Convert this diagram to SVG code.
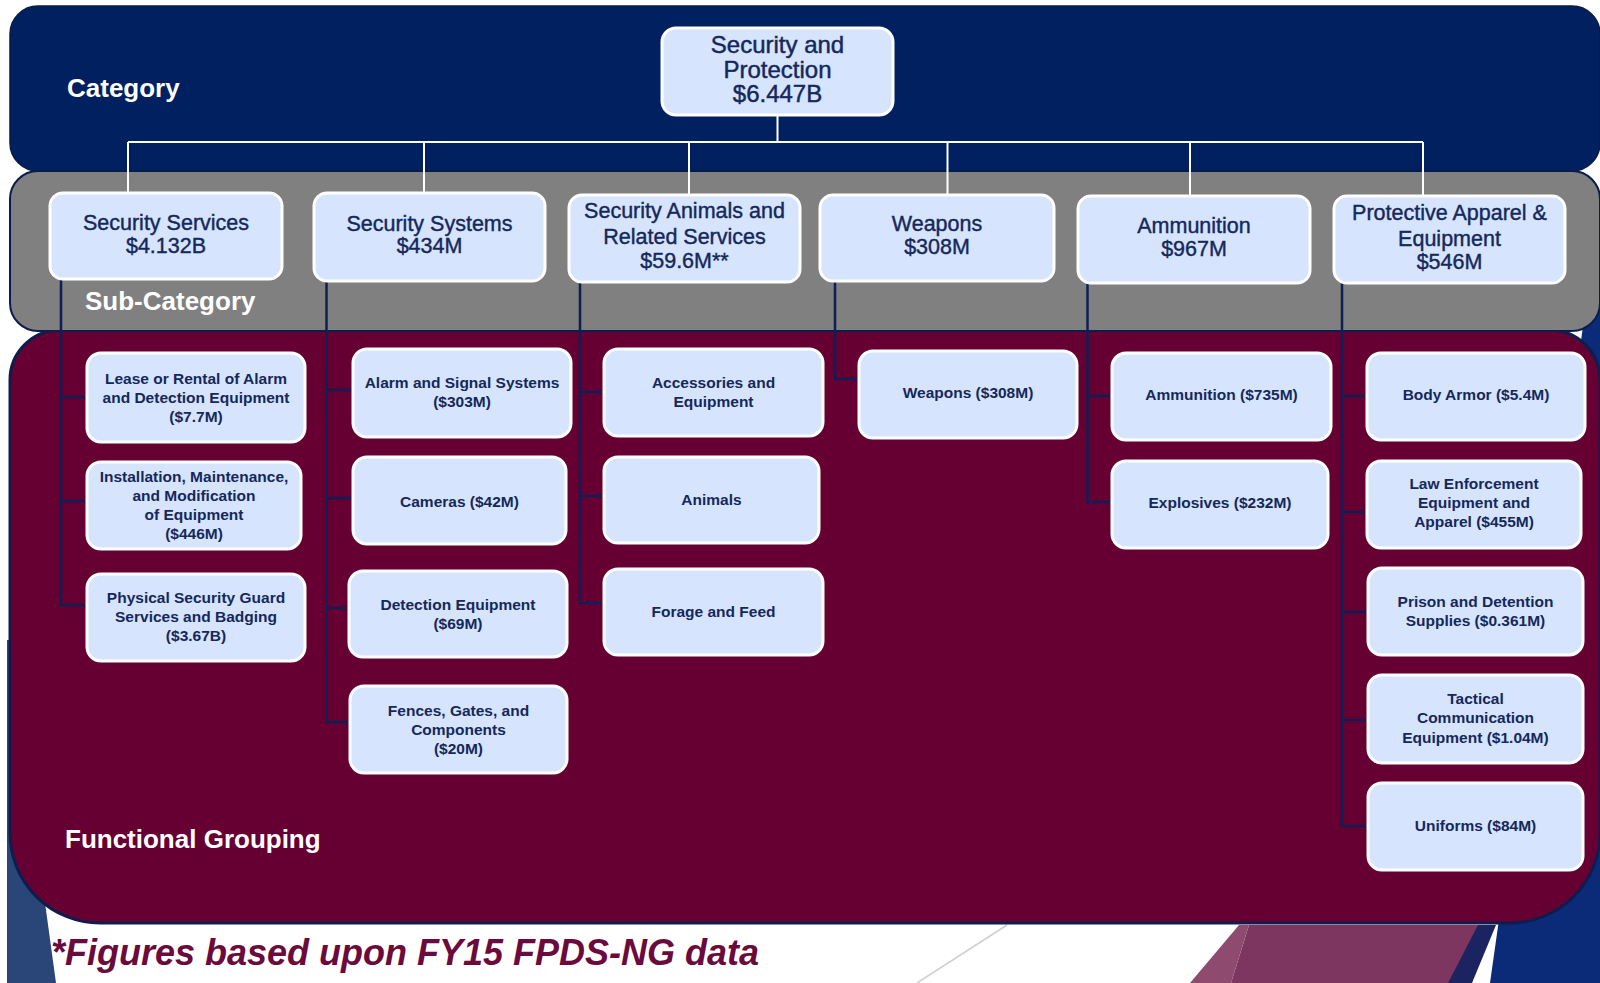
<svg xmlns="http://www.w3.org/2000/svg" width="1600" height="983" viewBox="0 0 1600 983">
<defs>
<style>
.box{fill:#D6E4FD;stroke:#FFFFFF;stroke-width:3}
.t{font-family:"Liberation Sans",Arial,sans-serif;fill:#15285C;text-anchor:middle}
.big{font-size:24px;stroke:#15285C;stroke-width:0.45}
.sub{font-size:21.5px;stroke:#15285C;stroke-width:0.4}
.sm{font-size:15.5px;font-weight:bold}
.lbl{font-family:"Liberation Sans",Arial,sans-serif;font-size:26px;font-weight:bold;fill:#FFFFFF}
.wc{stroke:#FFFFFF;stroke-width:2;fill:none}
.nc{stroke:#0E1F55;stroke-width:2.5;fill:none}
</style>
</defs>
<rect x="0" y="0" width="1600" height="983" fill="#FFFFFF"/>
<g id="background">
<polygon points="7,640 9,640 56,983 7,983" fill="#2A4678"/>
<polygon points="1608,150 1600,150 1600,983 1490,983" fill="#0B2A78"/>
<polygon points="1470,925 1496,925 1472,983 1446,983" fill="#1B2460"/>
<polygon points="1249,925 1478,925 1448,983 1231,983" fill="#7D365F"/>
<polygon points="1239,925 1249,925 1231,983 1190,983" fill="#8F4B6F"/>
<line x1="917" y1="983" x2="1007" y2="925" stroke="#CFCFCF" stroke-width="1.5"/>
</g>
<g id="bands">
<path d="M10,380 A50,50 0 0 1 60,330 H1550 A50,50 0 0 1 1600,380 V833 A90,90 0 0 1 1510,923 H100 A90,90 0 0 1 10,833 Z" fill="#660033" stroke="#0E1D4D" stroke-width="3"/>
<rect x="10" y="171" width="1590" height="160" rx="28" fill="#808080" stroke="#0B1D4C" stroke-width="2"/>
<rect x="10" y="6" width="1590" height="165" rx="28" fill="#00205F" stroke="#0A1A45" stroke-width="1.5"/>
<text class="lbl" x="67" y="97">Category</text>
<text class="lbl" x="85" y="310">Sub-Category</text>
<text class="lbl" x="65" y="848">Functional Grouping</text>
</g>
<g id="connectors">
<path class="wc" d="M777.5,115 V142 M128,142 H1423 M128,142 V193 M424,142 V193 M689,142 V195 M947.5,142 V195 M1190,142 V196 M1423,142 V196"/>
<path class="nc" d="M61,279 V605 H87 M61,397 H87 M61,501 H87"/>
<path class="nc" d="M326.5,281 V722 H350 M326.5,390 H353 M326.5,498 H353 M326.5,608 H349"/>
<path class="nc" d="M580,282 V603 H604 M580,392 H604 M580,496 H604"/>
<path class="nc" d="M835,281 V379 H859"/>
<path class="nc" d="M1087.5,283 V502 H1112 M1087.5,396 H1112"/>
<path class="nc" d="M1342,283 V826 H1368 M1342,396 H1367 M1342,512 H1367 M1342,612 H1368 M1342,720 H1368"/>
</g>
<g id="root">
<rect class="box" x="662" y="28" width="231" height="87" rx="14"/>
<text class="t big" x="777.5" y="53">Security and</text>
<text class="t big" x="777.5" y="78">Protection</text>
<text class="t big" x="777.5" y="102">$6.447B</text>
</g>
<g id="sub-services">
<rect class="box" x="50" y="193" width="232" height="86" rx="13"/>
<text class="t sub" x="166" y="230">Security Services</text>
<text class="t sub" x="166" y="253">$4.132B</text>
</g>
<g id="sub-systems">
<rect class="box" x="314" y="193" width="231" height="88" rx="13"/>
<text class="t sub" x="429.5" y="231">Security Systems</text>
<text class="t sub" x="429.5" y="253">$434M</text>
</g>
<g id="sub-animals">
<rect class="box" x="569" y="195" width="231" height="87" rx="13"/>
<text class="t sub" x="684.5" y="218">Security Animals and</text>
<text class="t sub" x="684.5" y="244">Related Services</text>
<text class="t sub" x="684.5" y="268">$59.6M**</text>
</g>
<g id="sub-weapons">
<rect class="box" x="820" y="195" width="234" height="86" rx="13"/>
<text class="t sub" x="937" y="231">Weapons</text>
<text class="t sub" x="937" y="254">$308M</text>
</g>
<g id="sub-ammunition">
<rect class="box" x="1078" y="196" width="232" height="87" rx="13"/>
<text class="t sub" x="1194" y="233">Ammunition</text>
<text class="t sub" x="1194" y="256">$967M</text>
</g>
<g id="sub-protective">
<rect class="box" x="1334" y="196" width="231" height="87" rx="13"/>
<text class="t sub" x="1449.5" y="220">Protective Apparel &amp;</text>
<text class="t sub" x="1449.5" y="246">Equipment</text>
<text class="t sub" x="1449.5" y="269">$546M</text>
</g>
<g id="fg-lease">
<rect class="box" x="87" y="353" width="218" height="89" rx="14"/>
<text class="t sm" x="196" y="384">Lease or Rental of Alarm</text>
<text class="t sm" x="196" y="403">and Detection Equipment</text>
<text class="t sm" x="196" y="422">($7.7M)</text>
</g>
<g id="fg-installation">
<rect class="box" x="87" y="462" width="214" height="87" rx="14"/>
<text class="t sm" x="194" y="482">Installation, Maintenance,</text>
<text class="t sm" x="194" y="501">and Modification</text>
<text class="t sm" x="194" y="520">of Equipment</text>
<text class="t sm" x="194" y="539">($446M)</text>
</g>
<g id="fg-physical">
<rect class="box" x="87" y="574" width="218" height="87" rx="14"/>
<text class="t sm" x="196" y="603">Physical Security Guard</text>
<text class="t sm" x="196" y="622">Services and Badging</text>
<text class="t sm" x="196" y="641">($3.67B)</text>
</g>
<g id="fg-alarm">
<rect class="box" x="353" y="349" width="218" height="88" rx="14"/>
<text class="t sm" x="462" y="388">Alarm and Signal Systems</text>
<text class="t sm" x="462" y="407">($303M)</text>
</g>
<g id="fg-cameras">
<rect class="box" x="353" y="457" width="213" height="87" rx="14"/>
<text class="t sm" x="459.5" y="507">Cameras ($42M)</text>
</g>
<g id="fg-detection">
<rect class="box" x="349" y="571" width="218" height="86" rx="14"/>
<text class="t sm" x="458" y="610">Detection Equipment</text>
<text class="t sm" x="458" y="629">($69M)</text>
</g>
<g id="fg-fences">
<rect class="box" x="350" y="686" width="217" height="87" rx="14"/>
<text class="t sm" x="458.5" y="716">Fences, Gates, and</text>
<text class="t sm" x="458.5" y="735">Components</text>
<text class="t sm" x="458.5" y="754">($20M)</text>
</g>
<g id="fg-accessories">
<rect class="box" x="604" y="349" width="219" height="87" rx="14"/>
<text class="t sm" x="713.5" y="388">Accessories and</text>
<text class="t sm" x="713.5" y="407">Equipment</text>
</g>
<g id="fg-animals">
<rect class="box" x="604" y="457" width="215" height="86" rx="14"/>
<text class="t sm" x="711.5" y="505">Animals</text>
</g>
<g id="fg-forage">
<rect class="box" x="604" y="569" width="219" height="86" rx="14"/>
<text class="t sm" x="713.5" y="617">Forage and Feed</text>
</g>
<g id="fg-weapons">
<rect class="box" x="859" y="351" width="218" height="87" rx="14"/>
<text class="t sm" x="968" y="398">Weapons ($308M)</text>
</g>
<g id="fg-ammunition">
<rect class="box" x="1112" y="353" width="219" height="87" rx="14"/>
<text class="t sm" x="1221.5" y="400">Ammunition ($735M)</text>
</g>
<g id="fg-explosives">
<rect class="box" x="1112" y="461" width="216" height="87" rx="14"/>
<text class="t sm" x="1220" y="508">Explosives ($232M)</text>
</g>
<g id="fg-bodyarmor">
<rect class="box" x="1367" y="353" width="218" height="87" rx="14"/>
<text class="t sm" x="1476" y="400">Body Armor ($5.4M)</text>
</g>
<g id="fg-law">
<rect class="box" x="1367" y="461" width="214" height="87" rx="14"/>
<text class="t sm" x="1474" y="489">Law Enforcement</text>
<text class="t sm" x="1474" y="508">Equipment and</text>
<text class="t sm" x="1474" y="527">Apparel ($455M)</text>
</g>
<g id="fg-prison">
<rect class="box" x="1368" y="568" width="215" height="87" rx="14"/>
<text class="t sm" x="1475.5" y="607">Prison and Detention</text>
<text class="t sm" x="1475.5" y="626">Supplies ($0.361M)</text>
</g>
<g id="fg-tactical">
<rect class="box" x="1368" y="675" width="215" height="88" rx="14"/>
<text class="t sm" x="1475.5" y="704">Tactical</text>
<text class="t sm" x="1475.5" y="723">Communication</text>
<text class="t sm" x="1475.5" y="743">Equipment ($1.04M)</text>
</g>
<g id="fg-uniforms">
<rect class="box" x="1368" y="783" width="215" height="87" rx="14"/>
<text class="t sm" x="1475.5" y="831">Uniforms ($84M)</text>
</g>
<text x="51" y="965" font-family="'Liberation Sans',Arial,sans-serif" font-size="36" font-weight="bold" font-style="italic" fill="#6B0A3C">*Figures based upon FY15 FPDS-NG data</text>
</svg>
